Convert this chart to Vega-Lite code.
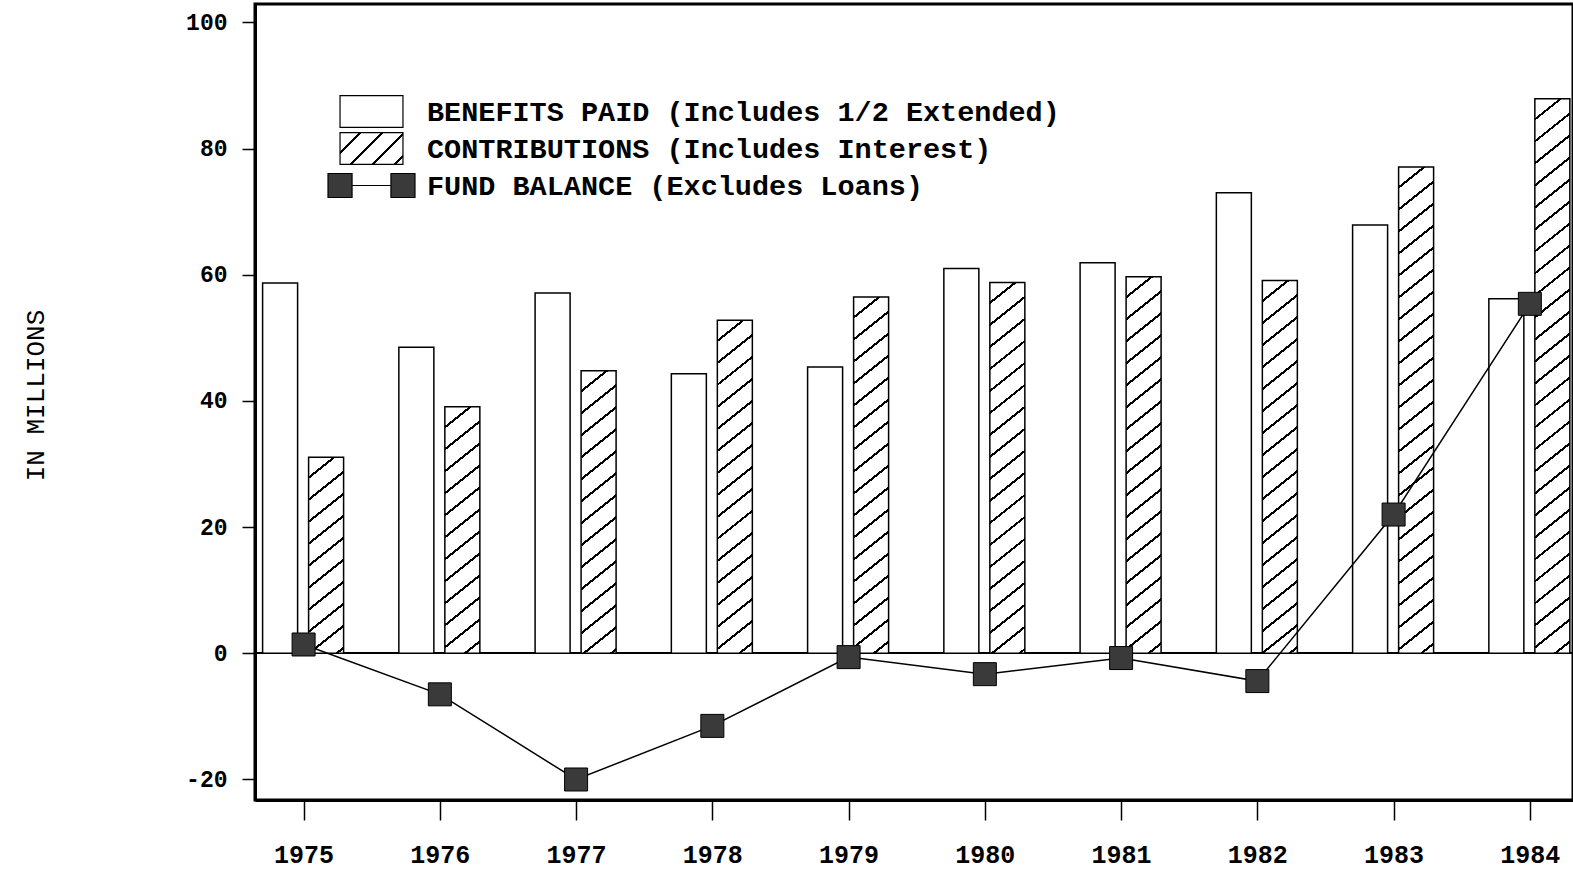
{
  "$schema": "https://vega.github.io/schema/vega-lite/v6.json",
  "width": 1318,
  "height": 796,
  "autosize": {"type": "none"},
  "padding": {"left": 255, "top": 4, "right": 0, "bottom": 75},
  "background": "white",
  "params": [
    {"name": "hatch", "value": [
      {"offset": 0, "color": "#fff"}, {"offset": 0.0312, "color": "#fff"}, {"offset": 0.0312, "color": "#000"}, {"offset": 0.0357, "color": "#000"},
      {"offset": 0.0357, "color": "#fff"}, {"offset": 0.0669, "color": "#fff"}, {"offset": 0.0669, "color": "#000"}, {"offset": 0.0714, "color": "#000"},
      {"offset": 0.0714, "color": "#fff"}, {"offset": 0.1026, "color": "#fff"}, {"offset": 0.1026, "color": "#000"}, {"offset": 0.1071, "color": "#000"},
      {"offset": 0.1071, "color": "#fff"}, {"offset": 0.1384, "color": "#fff"}, {"offset": 0.1384, "color": "#000"}, {"offset": 0.1429, "color": "#000"},
      {"offset": 0.1429, "color": "#fff"}, {"offset": 0.1741, "color": "#fff"}, {"offset": 0.1741, "color": "#000"}, {"offset": 0.1786, "color": "#000"},
      {"offset": 0.1786, "color": "#fff"}, {"offset": 0.2098, "color": "#fff"}, {"offset": 0.2098, "color": "#000"}, {"offset": 0.2143, "color": "#000"},
      {"offset": 0.2143, "color": "#fff"}, {"offset": 0.2455, "color": "#fff"}, {"offset": 0.2455, "color": "#000"}, {"offset": 0.25, "color": "#000"},
      {"offset": 0.25, "color": "#fff"}, {"offset": 0.2812, "color": "#fff"}, {"offset": 0.2812, "color": "#000"}, {"offset": 0.2857, "color": "#000"},
      {"offset": 0.2857, "color": "#fff"}, {"offset": 0.3169, "color": "#fff"}, {"offset": 0.3169, "color": "#000"}, {"offset": 0.3214, "color": "#000"},
      {"offset": 0.3214, "color": "#fff"}, {"offset": 0.3526, "color": "#fff"}, {"offset": 0.3526, "color": "#000"}, {"offset": 0.3571, "color": "#000"},
      {"offset": 0.3571, "color": "#fff"}, {"offset": 0.3884, "color": "#fff"}, {"offset": 0.3884, "color": "#000"}, {"offset": 0.3929, "color": "#000"},
      {"offset": 0.3929, "color": "#fff"}, {"offset": 0.4241, "color": "#fff"}, {"offset": 0.4241, "color": "#000"}, {"offset": 0.4286, "color": "#000"},
      {"offset": 0.4286, "color": "#fff"}, {"offset": 0.4598, "color": "#fff"}, {"offset": 0.4598, "color": "#000"}, {"offset": 0.4643, "color": "#000"},
      {"offset": 0.4643, "color": "#fff"}, {"offset": 0.4955, "color": "#fff"}, {"offset": 0.4955, "color": "#000"}, {"offset": 0.5, "color": "#000"},
      {"offset": 0.5, "color": "#fff"}, {"offset": 0.5312, "color": "#fff"}, {"offset": 0.5312, "color": "#000"}, {"offset": 0.5357, "color": "#000"},
      {"offset": 0.5357, "color": "#fff"}, {"offset": 0.5669, "color": "#fff"}, {"offset": 0.5669, "color": "#000"}, {"offset": 0.5714, "color": "#000"},
      {"offset": 0.5714, "color": "#fff"}, {"offset": 0.6026, "color": "#fff"}, {"offset": 0.6026, "color": "#000"}, {"offset": 0.6071, "color": "#000"},
      {"offset": 0.6071, "color": "#fff"}, {"offset": 0.6384, "color": "#fff"}, {"offset": 0.6384, "color": "#000"}, {"offset": 0.6429, "color": "#000"},
      {"offset": 0.6429, "color": "#fff"}, {"offset": 0.6741, "color": "#fff"}, {"offset": 0.6741, "color": "#000"}, {"offset": 0.6786, "color": "#000"},
      {"offset": 0.6786, "color": "#fff"}, {"offset": 0.7098, "color": "#fff"}, {"offset": 0.7098, "color": "#000"}, {"offset": 0.7143, "color": "#000"},
      {"offset": 0.7143, "color": "#fff"}, {"offset": 0.7455, "color": "#fff"}, {"offset": 0.7455, "color": "#000"}, {"offset": 0.75, "color": "#000"},
      {"offset": 0.75, "color": "#fff"}, {"offset": 0.7812, "color": "#fff"}, {"offset": 0.7812, "color": "#000"}, {"offset": 0.7857, "color": "#000"},
      {"offset": 0.7857, "color": "#fff"}, {"offset": 0.8169, "color": "#fff"}, {"offset": 0.8169, "color": "#000"}, {"offset": 0.8214, "color": "#000"},
      {"offset": 0.8214, "color": "#fff"}, {"offset": 0.8526, "color": "#fff"}, {"offset": 0.8526, "color": "#000"}, {"offset": 0.8571, "color": "#000"},
      {"offset": 0.8571, "color": "#fff"}, {"offset": 0.8884, "color": "#fff"}, {"offset": 0.8884, "color": "#000"}, {"offset": 0.8929, "color": "#000"},
      {"offset": 0.8929, "color": "#fff"}, {"offset": 0.9241, "color": "#fff"}, {"offset": 0.9241, "color": "#000"}, {"offset": 0.9286, "color": "#000"},
      {"offset": 0.9286, "color": "#fff"}, {"offset": 0.9598, "color": "#fff"}, {"offset": 0.9598, "color": "#000"}, {"offset": 0.9643, "color": "#000"},
      {"offset": 0.9643, "color": "#fff"}, {"offset": 0.9955, "color": "#fff"}, {"offset": 0.9955, "color": "#000"}, {"offset": 1, "color": "#000"}
    ]},
    {"name": "legendHatch", "value": {"gradient": "linear", "x1": 0, "y1": 0, "x2": 1.388, "y2": 0.705, "stops": [
      {"offset": 0, "color": "#fff"}, {"offset": 0.1745, "color": "#fff"}, {"offset": 0.1745, "color": "#000"}, {"offset": 0.2, "color": "#000"},
      {"offset": 0.2, "color": "#fff"}, {"offset": 0.3745, "color": "#fff"}, {"offset": 0.3745, "color": "#000"}, {"offset": 0.4, "color": "#000"},
      {"offset": 0.4, "color": "#fff"}, {"offset": 0.5745, "color": "#fff"}, {"offset": 0.5745, "color": "#000"}, {"offset": 0.6, "color": "#000"},
      {"offset": 0.6, "color": "#fff"}, {"offset": 0.7745, "color": "#fff"}, {"offset": 0.7745, "color": "#000"}, {"offset": 0.8, "color": "#000"},
      {"offset": 0.8, "color": "#fff"}, {"offset": 0.9745, "color": "#fff"}, {"offset": 0.9745, "color": "#000"}, {"offset": 1, "color": "#000"}
    ]}}
  ],
  "config": {
    "view": {"stroke": "black", "strokeWidth": 3},
    "font": "Liberation Mono"
  },
  "data": {"values": [
    {"year": 1975, "series": "BENEFITS PAID (Includes 1/2 Extended)", "amount": 58.7},
    {"year": 1976, "series": "BENEFITS PAID (Includes 1/2 Extended)", "amount": 48.5},
    {"year": 1977, "series": "BENEFITS PAID (Includes 1/2 Extended)", "amount": 57.1},
    {"year": 1978, "series": "BENEFITS PAID (Includes 1/2 Extended)", "amount": 44.3},
    {"year": 1979, "series": "BENEFITS PAID (Includes 1/2 Extended)", "amount": 45.4},
    {"year": 1980, "series": "BENEFITS PAID (Includes 1/2 Extended)", "amount": 61.0},
    {"year": 1981, "series": "BENEFITS PAID (Includes 1/2 Extended)", "amount": 61.9},
    {"year": 1982, "series": "BENEFITS PAID (Includes 1/2 Extended)", "amount": 73.0},
    {"year": 1983, "series": "BENEFITS PAID (Includes 1/2 Extended)", "amount": 67.9},
    {"year": 1984, "series": "BENEFITS PAID (Includes 1/2 Extended)", "amount": 56.2},
    {"year": 1975, "series": "CONTRIBUTIONS (Includes Interest)", "amount": 31.1},
    {"year": 1976, "series": "CONTRIBUTIONS (Includes Interest)", "amount": 39.1},
    {"year": 1977, "series": "CONTRIBUTIONS (Includes Interest)", "amount": 44.8},
    {"year": 1978, "series": "CONTRIBUTIONS (Includes Interest)", "amount": 52.8},
    {"year": 1979, "series": "CONTRIBUTIONS (Includes Interest)", "amount": 56.5},
    {"year": 1980, "series": "CONTRIBUTIONS (Includes Interest)", "amount": 58.8},
    {"year": 1981, "series": "CONTRIBUTIONS (Includes Interest)", "amount": 59.7},
    {"year": 1982, "series": "CONTRIBUTIONS (Includes Interest)", "amount": 59.1},
    {"year": 1983, "series": "CONTRIBUTIONS (Includes Interest)", "amount": 77.1},
    {"year": 1984, "series": "CONTRIBUTIONS (Includes Interest)", "amount": 87.9},
    {"year": 1975, "series": "FUND BALANCE (Excludes Loans)", "amount": 1.4},
    {"year": 1976, "series": "FUND BALANCE (Excludes Loans)", "amount": -6.5},
    {"year": 1977, "series": "FUND BALANCE (Excludes Loans)", "amount": -20.0},
    {"year": 1978, "series": "FUND BALANCE (Excludes Loans)", "amount": -11.5},
    {"year": 1979, "series": "FUND BALANCE (Excludes Loans)", "amount": -0.6},
    {"year": 1980, "series": "FUND BALANCE (Excludes Loans)", "amount": -3.3},
    {"year": 1981, "series": "FUND BALANCE (Excludes Loans)", "amount": -0.75},
    {"year": 1982, "series": "FUND BALANCE (Excludes Loans)", "amount": -4.4},
    {"year": 1983, "series": "FUND BALANCE (Excludes Loans)", "amount": 22.0},
    {"year": 1984, "series": "FUND BALANCE (Excludes Loans)", "amount": 55.4}
  ]},
  "layer": [
    {
      "mark": {"type": "rule", "color": "black", "strokeWidth": 1.5},
      "encoding": {
        "y": {"datum": 0, "type": "quantitative",
          "scale": {"domain": [-23.25, 102.93], "nice": false, "zero": false},
          "axis": {"values": [-20, 0, 20, 40, 60, 80, 100], "labelExpr": "datum.value + ''", "title": "IN MILLIONS", "titleFont": "Liberation Mono", "titleFontSize": 26, "titleFontWeight": "normal", "titleColor": "black", "titleX": -220, "titleY": 391, "titleAngle": 270, "titleAlign": "center", "titleBaseline": "middle", "labelFont": "Liberation Mono", "labelFontSize": 23, "labelFontWeight": "bold", "labelColor": "black", "labelPadding": 15, "tickSize": 13, "tickWidth": 1.5, "tickColor": "black", "domainColor": "black", "domainWidth": 3, "grid": false}}
      }
    },
    {
      "transform": [{"filter": {"field": "series", "equal": "BENEFITS PAID (Includes 1/2 Extended)"}}],
      "mark": {"type": "bar", "width": 35, "xOffset": -23.5, "stroke": "black", "strokeWidth": 1.5},
      "encoding": {
        "x": {"field": "year", "type": "quantitative",
          "scale": {"domain": [1974.6433, 1984.3167], "nice": false, "zero": false, "padding": 0},
          "axis": {"values": [1975, 1976, 1977, 1978, 1979, 1980, 1981, 1982, 1983, 1984], "format": "d", "title": null, "labelFont": "Liberation Mono", "labelFontSize": 25, "labelFontWeight": "bold", "labelColor": "black", "labelPadding": 22, "tickSize": 20, "tickWidth": 1.5, "tickColor": "black", "domainColor": "black", "domainWidth": 3, "grid": false, "labelFlush": false, "labelOverlap": false}},
        "y": {"field": "amount", "type": "quantitative", "stack": null,
          "scale": {"domain": [-23.25, 102.93], "nice": false, "zero": false},
          "axis": {"values": [-20, 0, 20, 40, 60, 80, 100], "labelExpr": "datum.value + ''", "title": "IN MILLIONS", "titleFont": "Liberation Mono", "titleFontSize": 26, "titleFontWeight": "normal", "titleColor": "black", "titleX": -220, "titleY": 391, "titleAngle": 270, "titleAlign": "center", "titleBaseline": "middle", "labelFont": "Liberation Mono", "labelFontSize": 23, "labelFontWeight": "bold", "labelColor": "black", "labelPadding": 15, "tickSize": 13, "tickWidth": 1.5, "tickColor": "black", "domainColor": "black", "domainWidth": 3, "grid": false}},
        "fill": {"field": "series", "type": "nominal",
          "scale": {"domain": ["BENEFITS PAID (Includes 1/2 Extended)", "CONTRIBUTIONS (Includes Interest)", "FUND BALANCE (Excludes Loans)"], "range": ["white", {"expr": "legendHatch"}, "#3a3a3a"]},
          "legend": {"title": null, "orient": "none", "legendX": 100, "legendY": 91, "padding": 0, "rowPadding": 0, "gridAlign": "all", "labelFont": "Liberation Mono", "labelFontSize": 28.5, "labelFontWeight": "bold", "labelColor": "black", "labelOffset": 39, "labelLimit": 1200, "symbolSize": 1000, "symbolStrokeColor": "black", "symbolStrokeWidth": 1.2, "symbolOpacity": 1,
            "symbolType": {"expr": "datum.value == 'FUND BALANCE (Excludes Loans)' ? 'M-2.75,-0.76H-1.23V0.76H-2.75Z M1.23,-0.76H2.75V0.76H1.23Z M-1.23,0H1.23' : 'M-1.99,-1.01H1.99V1.01H-1.99Z'"}}}
      }
    },
    {
      "transform": [{"filter": {"field": "series", "equal": "CONTRIBUTIONS (Includes Interest)"}}],
      "mark": {"type": "bar", "width": 35, "xOffset": 22.5, "stroke": "black", "strokeWidth": 1.5,
        "fill": {"expr": "{gradient: 'linear', x1: 0, y1: 0, x2: 28 * 616 / (784 + pow(scale('y', datum.amount) - scale('y', 0), 2)), y2: abs(scale('y', datum.amount) - scale('y', 0)) * 616 / (784 + pow(scale('y', datum.amount) - scale('y', 0), 2)), stops: hatch}"}},
      "encoding": {
        "x": {"field": "year", "type": "quantitative",
          "scale": {"domain": [1974.6433, 1984.3167], "nice": false, "zero": false, "padding": 0},
          "axis": {"values": [1975, 1976, 1977, 1978, 1979, 1980, 1981, 1982, 1983, 1984], "format": "d", "title": null, "labelFont": "Liberation Mono", "labelFontSize": 25, "labelFontWeight": "bold", "labelColor": "black", "labelPadding": 22, "tickSize": 20, "tickWidth": 1.5, "tickColor": "black", "domainColor": "black", "domainWidth": 3, "grid": false, "labelFlush": false, "labelOverlap": false}},
        "y": {"field": "amount", "type": "quantitative", "stack": null,
          "scale": {"domain": [-23.25, 102.93], "nice": false, "zero": false},
          "axis": {"values": [-20, 0, 20, 40, 60, 80, 100], "labelExpr": "datum.value + ''", "title": "IN MILLIONS", "titleFont": "Liberation Mono", "titleFontSize": 26, "titleFontWeight": "normal", "titleColor": "black", "titleX": -220, "titleY": 391, "titleAngle": 270, "titleAlign": "center", "titleBaseline": "middle", "labelFont": "Liberation Mono", "labelFontSize": 23, "labelFontWeight": "bold", "labelColor": "black", "labelPadding": 15, "tickSize": 13, "tickWidth": 1.5, "tickColor": "black", "domainColor": "black", "domainWidth": 3, "grid": false}}
      }
    },
    {
      "transform": [{"filter": {"field": "series", "equal": "FUND BALANCE (Excludes Loans)"}}],
      "mark": {"type": "line", "color": "black", "strokeWidth": 1.5},
      "encoding": {
        "x": {"field": "year", "type": "quantitative",
          "scale": {"domain": [1974.6433, 1984.3167], "nice": false, "zero": false, "padding": 0},
          "axis": {"values": [1975, 1976, 1977, 1978, 1979, 1980, 1981, 1982, 1983, 1984], "format": "d", "title": null, "labelFont": "Liberation Mono", "labelFontSize": 25, "labelFontWeight": "bold", "labelColor": "black", "labelPadding": 22, "tickSize": 20, "tickWidth": 1.5, "tickColor": "black", "domainColor": "black", "domainWidth": 3, "grid": false, "labelFlush": false, "labelOverlap": false}},
        "y": {"field": "amount", "type": "quantitative",
          "scale": {"domain": [-23.25, 102.93], "nice": false, "zero": false},
          "axis": {"values": [-20, 0, 20, 40, 60, 80, 100], "labelExpr": "datum.value + ''", "title": "IN MILLIONS", "titleFont": "Liberation Mono", "titleFontSize": 26, "titleFontWeight": "normal", "titleColor": "black", "titleX": -220, "titleY": 391, "titleAngle": 270, "titleAlign": "center", "titleBaseline": "middle", "labelFont": "Liberation Mono", "labelFontSize": 23, "labelFontWeight": "bold", "labelColor": "black", "labelPadding": 15, "tickSize": 13, "tickWidth": 1.5, "tickColor": "black", "domainColor": "black", "domainWidth": 3, "grid": false}}
      }
    },
    {
      "transform": [{"filter": {"field": "series", "equal": "FUND BALANCE (Excludes Loans)"}}],
      "mark": {"type": "point", "shape": "square", "filled": true, "size": 529, "opacity": 1, "stroke": "black", "strokeWidth": 1},
      "encoding": {
        "x": {"field": "year", "type": "quantitative",
          "scale": {"domain": [1974.6433, 1984.3167], "nice": false, "zero": false, "padding": 0},
          "axis": {"values": [1975, 1976, 1977, 1978, 1979, 1980, 1981, 1982, 1983, 1984], "format": "d", "title": null, "labelFont": "Liberation Mono", "labelFontSize": 25, "labelFontWeight": "bold", "labelColor": "black", "labelPadding": 22, "tickSize": 20, "tickWidth": 1.5, "tickColor": "black", "domainColor": "black", "domainWidth": 3, "grid": false, "labelFlush": false, "labelOverlap": false}},
        "y": {"field": "amount", "type": "quantitative",
          "scale": {"domain": [-23.25, 102.93], "nice": false, "zero": false},
          "axis": {"values": [-20, 0, 20, 40, 60, 80, 100], "labelExpr": "datum.value + ''", "title": "IN MILLIONS", "titleFont": "Liberation Mono", "titleFontSize": 26, "titleFontWeight": "normal", "titleColor": "black", "titleX": -220, "titleY": 391, "titleAngle": 270, "titleAlign": "center", "titleBaseline": "middle", "labelFont": "Liberation Mono", "labelFontSize": 23, "labelFontWeight": "bold", "labelColor": "black", "labelPadding": 15, "tickSize": 13, "tickWidth": 1.5, "tickColor": "black", "domainColor": "black", "domainWidth": 3, "grid": false}},
        "fill": {"field": "series", "type": "nominal",
          "scale": {"domain": ["BENEFITS PAID (Includes 1/2 Extended)", "CONTRIBUTIONS (Includes Interest)", "FUND BALANCE (Excludes Loans)"], "range": ["white", {"expr": "legendHatch"}, "#3a3a3a"]},
          "legend": {"title": null, "orient": "none", "legendX": 100, "legendY": 91, "padding": 0, "rowPadding": 0, "gridAlign": "all", "labelFont": "Liberation Mono", "labelFontSize": 28.5, "labelFontWeight": "bold", "labelColor": "black", "labelOffset": 39, "labelLimit": 1200, "symbolSize": 1000, "symbolStrokeColor": "black", "symbolStrokeWidth": 1.2, "symbolOpacity": 1,
            "symbolType": {"expr": "datum.value == 'FUND BALANCE (Excludes Loans)' ? 'M-2.75,-0.76H-1.23V0.76H-2.75Z M1.23,-0.76H2.75V0.76H1.23Z M-1.23,0H1.23' : 'M-1.99,-1.01H1.99V1.01H-1.99Z'"}}}
      }
    }
  ]
}
